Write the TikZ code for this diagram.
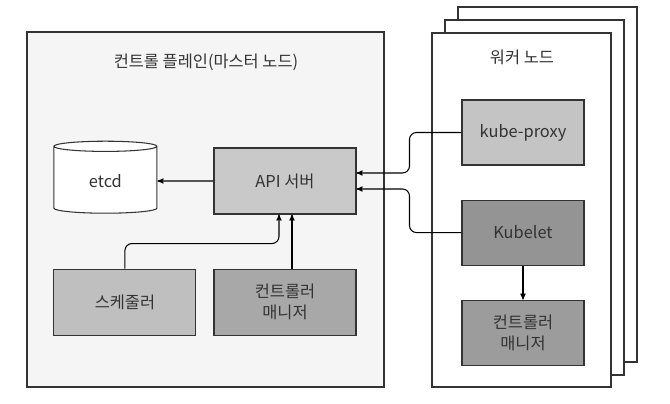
\documentclass[tikz,border=0pt]{standalone}
\usepackage{fontspec}
\setmainfont{Noto Sans CJK KR}
\usetikzlibrary{arrows,shapes.geometric,positioning}

\begin{document}
\begin{tikzpicture}[->,>=stealth',x=0.03cm,y=-0.03cm,line width=0.9pt,
	font=\fontsize{14}{18}\selectfont,text=black!80]
	\tikzstyle{box}=[draw=black!80,minimum width=4.26cm,minimum height=1.98cm,align=center]
	\tikzstyle{wbox}=[box,minimum width=3.66cm,minimum height=1.95cm]
	\tikzstyle{page}=[-,draw=black!80,fill=white]
	\useasboundingbox (0,0) rectangle (670,404);

	% control plane
	\draw[-,draw=black!80,fill=black!4] (27,32) rectangle (384,387);
	\node[] (cp) at (206,62) {컨트롤 플레인(마스터 노드)};

	\node[box,fill=black!21] (api) at (285,181) {API 서버};
	\node[box,fill=black!34] (cm1) [below=1.62cm of api] {컨트롤러\\매니저};
	\node[box,fill=black!25] (sched) [left=0.51cm of cm1] {스케줄러};
	\node[cylinder,shape border rotate=90,aspect=0.25,draw=black!80,fill=white,
		minimum width=3.09cm,minimum height=2.16cm] (etcd) [left=1.68cm of api] {etcd};

	% worker nodes
	\draw[page] (458,7) rectangle (637,362);
	\draw[page] (445,20) rectangle (624,375);
	\draw[page] (432,33) rectangle (611,387);
	\node[] (wn) at (522,57) {워커 노드};

	\node[wbox,fill=black!23] (proxy) at (523,132.5) {kube-proxy};
	\node[wbox,fill=black!42] (kubelet) [below=1.02cm of proxy] {Kubelet};
	\node[wbox,fill=black!39] (cm2) [below=1.02cm of kubelet] {컨트롤러\\매니저};

	\path
	(api) edge (etcd)
	(kubelet) edge (cm2)
	([xshift=0.21cm]cm1.north) edge ([xshift=0.21cm]api.south)
	;
	\draw[rounded corners=6pt] (sched.north) -- ++(0,-25) -| ([xshift=-0.18cm]api.south);
	\draw[rounded corners=6pt] (proxy.west) -- ++(-52,0) |- ([yshift=0.24cm]api.east);
	\draw[rounded corners=6pt] (kubelet.west) -- ++(-52,0) |- ([yshift=-0.24cm]api.east);
\end{tikzpicture}
\end{document}
